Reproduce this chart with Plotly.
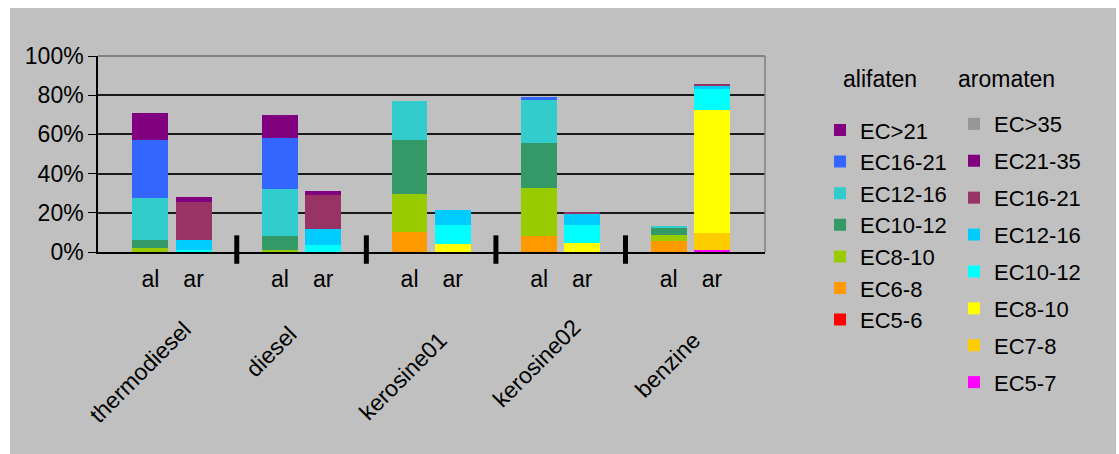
import plotly.graph_objects as go

# Fuels and the slot layout along the x axis (al / ar per fuel, blank slot = separator)
fuels = ["thermodiesel", "diesel", "kerosine01", "kerosine02", "benzine"]
slot_labels = ["al", "ar", "", "al", "ar", "", "al", "ar", "", "al", "ar", "", "al", "ar"]

al_slots = [i for i, s in enumerate(slot_labels) if s == "al"]
ar_slots = [i for i, s in enumerate(slot_labels) if s == "ar"]
sep_slots = [i for i, s in enumerate(slot_labels) if s == ""]

# Aliphatic fractions (% of total), per fuel
al_ec5_6 = [0, 0, 0, 0, 0]
al_ec6_8 = [0, 0, 10.3, 8.3, 5.4]
al_ec8_10 = [2.2, 1.2, 19.4, 24.5, 3.4]
al_ec10_12 = [4.1, 7.1, 27.5, 22.9, 3.6]
al_ec12_16 = [21.4, 23.9, 19.8, 21.9, 1.0]
al_ec16_21 = [29.5, 26.0, 0, 1.5, 0]
al_ec21_plus = [13.8, 11.7, 0, 0, 0]

# Aromatic fractions (% of total), per fuel
ar_ec5_7 = [0, 0, 0, 0, 1.0]
ar_ec7_8 = [0, 0, 0, 0, 8.8]
ar_ec8_10 = [0, 0, 4.2, 4.7, 62.7]
ar_ec10_12 = [1.2, 3.7, 9.7, 9.2, 10.7]
ar_ec12_16 = [5.1, 8.2, 7.6, 5.6, 1.5]
ar_ec16_21 = [19.3, 17.3, 0, 1.0, 1.0]
ar_ec21_35 = [2.6, 2.0, 0, 0, 0]
ar_ec35_plus = [0, 0, 0, 0, 0]

# y axis ticks
y_ticks = [0, 20, 40, 60, 80, 100]
y_tick_text = ["0%", "20%", "40%", "60%", "80%", "100%"]

# stacking order bottom -> top
al_series = [
    ("EC5-6", al_ec5_6, "#FF0000"),
    ("EC6-8", al_ec6_8, "#FF9900"),
    ("EC8-10", al_ec8_10, "#99CC00"),
    ("EC10-12", al_ec10_12, "#339966"),
    ("EC12-16", al_ec12_16, "#33CCCC"),
    ("EC16-21", al_ec16_21, "#3366FF"),
    ("EC>21", al_ec21_plus, "#800080"),
]
ar_series = [
    ("EC5-7", ar_ec5_7, "#FF00FF"),
    ("EC7-8", ar_ec7_8, "#FFCC00"),
    ("EC8-10", ar_ec8_10, "#FFFF00"),
    ("EC10-12", ar_ec10_12, "#00FFFF"),
    ("EC12-16", ar_ec12_16, "#00CCFF"),
    ("EC16-21", ar_ec16_21, "#993366"),
    ("EC21-35", ar_ec21_35, "#800080"),
    ("EC>35", ar_ec35_plus, "#969696"),
]

FONT = "Liberation Sans, Arial, sans-serif"
BG = "#C0C0C0"
LEG_SIZE = 22

fig = go.Figure()

# legend lists the top segment first
for k, (name, vals, color) in enumerate(al_series):
    fig.add_trace(go.Bar(
        x=al_slots, y=vals, name=name, marker=dict(color=color, line=dict(width=0)),
        legend="legend", legendgroup="al_" + name, legendrank=100 - k,
    ))

for k, (name, vals, color) in enumerate(ar_series):
    fig.add_trace(go.Bar(
        x=ar_slots, y=vals, name=name, marker=dict(color=color, line=dict(width=0)),
        legend="legend2", legendgroup="ar_" + name, legendrank=100 - k,
    ))

shapes = [
    # grey chart background
    dict(type="rect", xref="paper", yref="paper", x0=-0.1319, x1=1.5262, y0=-1.04, y1=1.2445,
         fillcolor=BG, line=dict(width=0), layer="below"),
    # plot area frame (top and right edges)
    dict(type="line", xref="paper", yref="paper", x0=0, x1=1, y0=1, y1=1,
         line=dict(color="#6E6E6E", width=1.5), layer="above"),
    dict(type="line", xref="paper", yref="paper", x0=1, x1=1, y0=0, y1=1,
         line=dict(color="#808080", width=1.5), layer="above"),
]
# thick separators between fuel groups
for s in sep_slots:
    shapes.append(dict(type="line", xref="x", yref="paper", x0=s, x1=s, y0=-0.06, y1=0.085,
                       line=dict(color="black", width=5), layer="above"))

annotations = []
# rotated fuel names: (x shift in px from group middle, paper y of label centre)
label_offsets = [(-32, -0.610), (-31, -0.508), (-28, -0.635), (-24, -0.564), (-23, -0.574)]
for k, fuel in enumerate(fuels):
    mid = (al_slots[k] + ar_slots[k]) / 2
    dx, py = label_offsets[k]
    annotations.append(dict(
        x=mid, y=py, xref="x", yref="paper", text=fuel, showarrow=False, textangle=-45,
        xanchor="center", yanchor="middle", xshift=dx, font=dict(family=FONT, size=23, color="black"),
    ))

annotations.append(dict(x=1.1724, y=0.8828, xref="paper", yref="paper", text="alifaten",
                        showarrow=False, xanchor="center", yanchor="middle",
                        font=dict(family=FONT, size=23, color="black")))
annotations.append(dict(x=1.3621, y=0.8828, xref="paper", yref="paper", text="aromaten",
                        showarrow=False, xanchor="center", yanchor="middle",
                        font=dict(family=FONT, size=23, color="black")))

fig.update_layout(
    width=1119, height=454,
    margin=dict(l=98, r=354, t=56, b=202, pad=0),
    paper_bgcolor="white", plot_bgcolor="rgba(0,0,0,0)",
    barmode="stack", bargap=0.17,
    font=dict(family=FONT, size=23, color="black"),
    shapes=shapes, annotations=annotations,
    xaxis=dict(
        range=[-1.213, 14.23], tickmode="array",
        tickvals=al_slots + ar_slots,
        ticktext=[slot_labels[i] for i in al_slots + ar_slots],
        showgrid=False, zeroline=False, showline=True, linecolor="black", linewidth=1.5,
        ticks="", ticklabelstandoff=6, tickfont=dict(family=FONT, size=23, color="black"),
        fixedrange=True,
    ),
    yaxis=dict(
        range=[0, 100], tickmode="array", tickvals=y_ticks, ticktext=y_tick_text,
        showgrid=True, gridcolor="#1A1A1A", gridwidth=1.5,
        zeroline=False, showline=True, linecolor="black", linewidth=1.5,
        ticks="outside", ticklen=8, tickcolor="black", tickwidth=1,
        ticklabelstandoff=0, tickfont=dict(family=FONT, size=23, color="black"),
        fixedrange=True,
    ),
    legend=dict(
        x=1.0825, y=0.7285, xanchor="left", yanchor="top", traceorder="grouped",
        tracegroupgap=0, bgcolor="rgba(0,0,0,0)", borderwidth=0, maxheight=440,
        font=dict(family=FONT, size=LEG_SIZE, color="black"),
    ),
    legend2=dict(
        x=1.2834, y=0.760, xanchor="left", yanchor="top", traceorder="grouped",
        tracegroupgap=5.3, bgcolor="rgba(0,0,0,0)", borderwidth=0, maxheight=440,
        font=dict(family=FONT, size=LEG_SIZE, color="black"),
    ),
    showlegend=True,
)

fig.write_html("out.html")
